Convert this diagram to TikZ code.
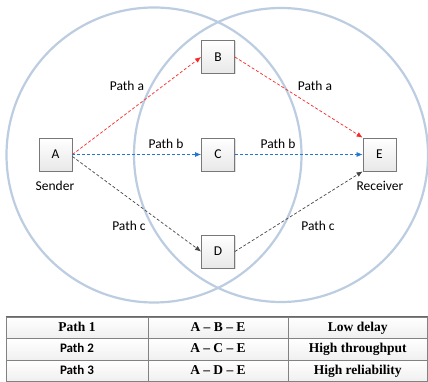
\documentclass[tikz,border=0pt]{standalone}
\usepackage{fontspec}
\setmainfont{Liberation Serif}
\newfontfamily\carl{Carlito}
\usetikzlibrary{arrows.meta,shadows}
\definecolor{ringc}{RGB}{188,205,225}
\definecolor{boxedge}{RGB}{120,120,120}
\definecolor{pred}{RGB}{250,40,40}
\definecolor{pblue}{RGB}{30,120,210}
\definecolor{pgray}{RGB}{70,70,70}
\definecolor{celledge}{RGB}{130,130,130}
\tikzset{
  ring/.style={draw=ringc, line width=2.2pt},
  nodebox/.style={draw=boxedge, line width=0.8pt, top color=white, bottom color=gray!18,
    minimum width=33pt, minimum height=33pt, inner sep=0pt,
    font=\carl\fontsize{13.5}{15}\selectfont,
    drop shadow={shadow xshift=1pt, shadow yshift=-1pt, opacity=0.25}},
  lbl/.style={font=\carl\fontsize{13.5}{15}\selectfont, inner sep=0pt},
  patharrow/.style={dashed, dash pattern=on 3pt off 2pt, line width=0.7pt,
    -{Latex[length=6pt,width=5pt]}},
  cell/.style={draw=celledge, line width=0.6pt, top color=white, bottom color=gray!12,
    minimum height=21.5pt, inner sep=0pt, anchor=center},
  serifb/.style={font=\bfseries\fontsize{13.5}{15}\selectfont, text height=9.5pt, text depth=3pt, inner sep=0pt},
  sansb/.style={font=\carl\bfseries\fontsize{13}{15}\selectfont, text height=9.5pt, text depth=3pt, inner sep=0pt},
}
\begin{document}
\begin{tikzpicture}[x=1pt,y=-1pt]
\useasboundingbox (0,0) rectangle (428,382);
\fill[white] (0,0) rectangle (428,382);
% circles
\draw[ring] (154,155) circle[radius=147.5];
\draw[ring] (281,155) circle[radius=147];
% nodes
\node[nodebox] (A) at (55.5,154.5) {A};
\node[nodebox] (B) at (218,57) {B};
\node[nodebox] (C) at (218,154.5) {C};
\node[nodebox] (D) at (218,251.5) {D};
\node[nodebox] (E) at (379.5,154.5) {E};
\node[lbl] (sender) at (55,186) {Sender};
\node[lbl] (receiver) at (380,186) {Receiver};
% arrows
\draw[patharrow, pred] (A.east) -- (B.west);
\draw[patharrow, pblue] (A.east) -- (C.west);
\draw[patharrow, pgray] ([yshift=-2pt]A.east) -- (D.west);
\draw[patharrow, pred] (B.east) -- (E.north west);
\draw[patharrow, pblue] (C.east) -- (E.west);
\draw[patharrow, pgray] (D.east) -- (E.south west);
% labels
\node[lbl] (la1) at (127,86) {Path a};
\node[lbl] (la2) at (315,86) {Path a};
\node[lbl] (lb1) at (166,144) {Path b};
\node[lbl] (lb2) at (278,144) {Path b};
\node[lbl] (lc1) at (129,226) {Path c};
\node[lbl] (lc2) at (318,226) {Path c};
% table
\node[cell, minimum width=142pt] (r1c1) at (77,327.75) {};
\node[cell, minimum width=140pt] (r1c2) at (218,327.75) {};
\node[cell, minimum width=139.5pt] (r1c3) at (357.75,327.75) {};
\node[cell, minimum width=142pt] (r2c1) at (77,349.25) {};
\node[cell, minimum width=140pt] (r2c2) at (218,349.25) {};
\node[cell, minimum width=139.5pt] (r2c3) at (357.75,349.25) {};
\node[cell, minimum width=142pt] (r3c1) at (77,370.75) {};
\node[cell, minimum width=140pt] (r3c2) at (218,370.75) {};
\node[cell, minimum width=139.5pt] (r3c3) at (357.75,370.75) {};
\draw[celledge!80!black, line width=1pt] (r1c1.north west) -- (r1c3.north east);
\node[serifb] (t11) at (r1c1) {Path 1};
\node[serifb] (t12) at (r1c2) {A – B – E};
\node[serifb] (t13) at (r1c3) {Low delay};
\node[sansb] (t21) at (r2c1) {Path 2};
\node[serifb] (t22) at (r2c2) {A – C – E};
\node[serifb] (t23) at (r2c3) {High throughput};
\node[sansb] (t31) at (r3c1) {Path 3};
\node[serifb] (t32) at (r3c2) {A – D – E};
\node[serifb] (t33) at (r3c3) {High reliability};
\end{tikzpicture}
\end{document}
